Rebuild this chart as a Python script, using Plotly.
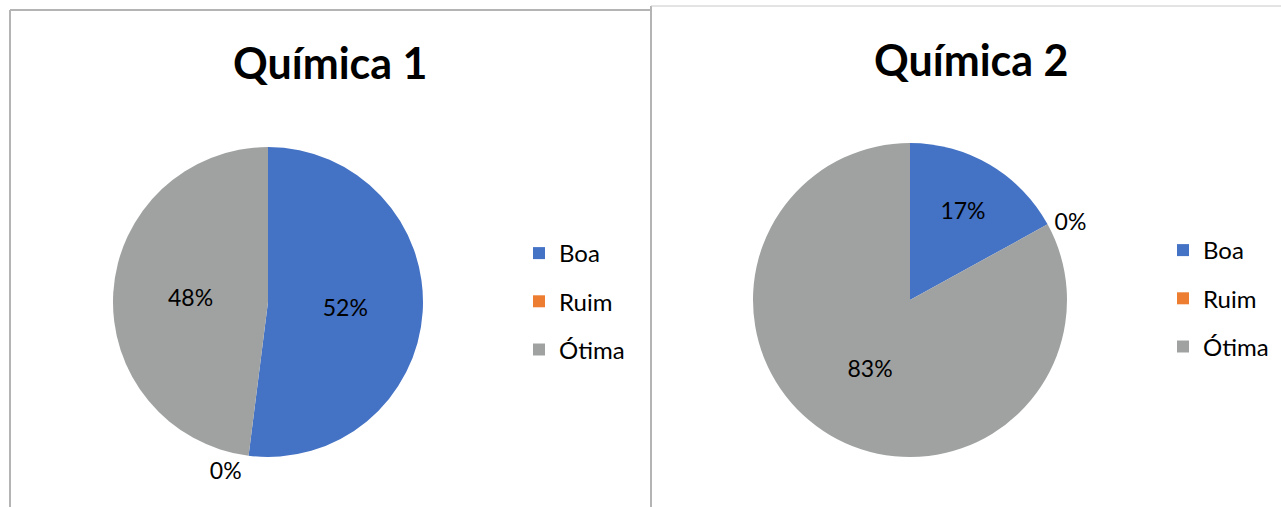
import plotly.graph_objects as go

categories = ["Boa", "Ruim", "Ótima"]
colors = ["#4472C4", "#ED7D31", "#A0A2A2"]
titles = ["Química 1", "Química 2"]
values_q1 = [52, 0, 48]
values_q2 = [17, 0, 83]

W, H = 1281, 507
def px(x): return x / W
def py(y): return 1 - y / H

FONT = "Lato"

fig = go.Figure()

def add_pie(vals, cx, cy, r, legend_name):
    fig.add_trace(go.Pie(
        labels=categories, values=vals, sort=False, direction="clockwise", rotation=0,
        marker=dict(colors=colors, line=dict(width=0)),
        texttemplate="%{percent:.0%}",
        textposition=["inside", "outside", "inside"],
        insidetextorientation="horizontal",
        textfont=dict(family=FONT, size=23, color="#000000"),
        domain=dict(x=[px(cx - r), px(cx + r)], y=[py(cy + r), py(cy - r)]),
        showlegend=False, hoverinfo="label+percent",
    ))
    for cat, col in zip(categories, colors):
        fig.add_trace(go.Scatter(
            x=[None], y=[None], mode="markers", name=cat,
            marker=dict(symbol="square", size=12, color=col),
            legend=legend_name, legendgroup=legend_name + cat, showlegend=True,
        ))

add_pie(values_q1, 268, 302, 155, "legend")
add_pie(values_q2, 910, 300, 157, "legend2")

legend_common = dict(
    font=dict(family=FONT, size=24, color="#000000"),
    bgcolor="rgba(0,0,0,0)", tracegroupgap=14, itemwidth=30,
    xanchor="left", yanchor="top",
)

fig.update_layout(
    width=W, height=H,
    margin=dict(l=0, r=0, t=0, b=0),
    paper_bgcolor="white", plot_bgcolor="white",
    xaxis=dict(visible=False), yaxis=dict(visible=False),
    legend=dict(x=px(519), y=py(231), **legend_common),
    legend2=dict(x=px(1163), y=py(228), **legend_common),
    annotations=[
        dict(text="<b>%s</b>" % titles[0], x=px(330), y=py(63), xref="paper", yref="paper",
             xanchor="center", yanchor="middle",
             showarrow=False, font=dict(family=FONT, size=43, color="#000000")),
        dict(text="<b>%s</b>" % titles[1], x=px(972), y=py(59), xref="paper", yref="paper",
             xanchor="center", yanchor="middle",
             showarrow=False, font=dict(family=FONT, size=43, color="#000000")),
    ],
    shapes=[
        dict(type="line", xref="paper", yref="paper", x0=px(10), x1=px(10), y0=0, y1=py(10),
             line=dict(color="#B4B4B4", width=2)),
        dict(type="line", xref="paper", yref="paper", x0=px(10), x1=px(651), y0=py(10), y1=py(10),
             line=dict(color="#B4B4B4", width=2)),
        dict(type="line", xref="paper", yref="paper", x0=px(651), x1=px(651), y0=0, y1=py(6),
             line=dict(color="#B4B4B4", width=2)),
        dict(type="line", xref="paper", yref="paper", x0=px(651), x1=1, y0=py(6), y1=py(6),
             line=dict(color="#C8C8C8", width=1)),
    ],
)

fig.write_html("out.html", config={"displayModeBar": False},
               post_script="document.body.style.margin='0';")
